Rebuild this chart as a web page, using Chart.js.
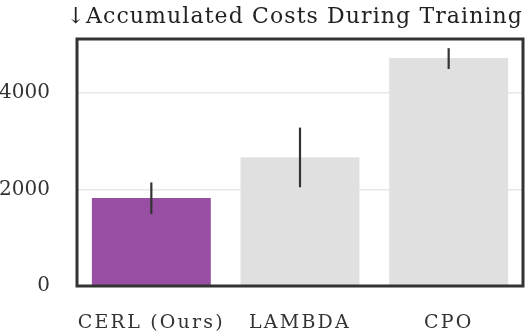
<!DOCTYPE html>
<html>
<head>
<meta charset="utf-8">
<script src="https://cdn.jsdelivr.net/npm/chart.js@4"></script>
<style>
  body { margin: 0; background: #fff; }
</style>
</head>
<body>
<canvas id="js--chart-costs" width="530" height="336"></canvas>
<script>
const categories = ["CERL (Ours)", "LAMBDA", "CPO"];
const costMeans = [1820, 2665, 4720];
const costLow = [1490, 2045, 4495];   // lower end of error bar
const costHigh = [2145, 3280, 4925];  // upper end of error bar
const barColors = ["#984ea3", "#e0e0e0", "#e0e0e0"];
const yTicks = [0, 2000, 4000];
const yMax = 5115;

const serif = "'DejaVu Serif', serif";
const textColor = "#333333";

// wrap a draw method so its text gets some extra letter spacing
function spaced(obj, method, spacing) {
    if (!obj || obj["_spaced_" + method]) return;
    const orig = obj[method];
    obj[method] = function (...args) {
        const c = this.ctx;
        c.save();
        c.letterSpacing = spacing;
        orig.apply(this, args);
        c.restore();
    };
    obj["_spaced_" + method] = true;
}

const letterSpacing = {
    id: "letterSpacing",
    afterLayout(chart) {
        spaced(chart.scales.x, "drawLabels", "2.2px");
        spaced(chart.titleBlock, "draw", "1.1px");
    }
};

// error bars drawn on top of the bars
const errorBars = {
    id: "errorBars",
    afterDatasetsDraw(chart) {
        const ctx = chart.ctx;
        const yScale = chart.scales.y;
        const meta = chart.getDatasetMeta(0);
        ctx.save();
        ctx.strokeStyle = "#333333";
        ctx.lineWidth = 2.2;
        meta.data.forEach((bar, i) => {
            ctx.beginPath();
            ctx.moveTo(bar.x, yScale.getPixelForValue(costLow[i]));
            ctx.lineTo(bar.x, yScale.getPixelForValue(costHigh[i]));
            ctx.stroke();
        });
        ctx.restore();
    }
};

// dark box around the plot area
const frame = {
    id: "frame",
    afterDraw(chart) {
        const a = chart.chartArea;
        const ctx = chart.ctx;
        ctx.save();
        ctx.strokeStyle = "#333333";
        ctx.lineWidth = 3;
        ctx.strokeRect(a.left, a.top, a.right - a.left, a.bottom - a.top);
        ctx.restore();
    }
};

const ctx = document.getElementById("js--chart-costs").getContext("2d");

const chart = new Chart(ctx, {
    type: "bar",
    data: {
        labels: categories,
        datasets: [{
            label: "Accumulated costs",
            data: costMeans,
            backgroundColor: barColors,
            borderWidth: 0,
            barPercentage: 0.8,
            categoryPercentage: 1
        }]
    },
    options: {
        responsive: false,
        devicePixelRatio: 1,
        animation: false,
        layout: {
            padding: { top: 1, right: 7, left: 0, bottom: 0 }
        },
        plugins: {
            legend: { display: false },
            tooltip: { enabled: false },
            title: {
                display: true,
                text: "↓Accumulated Costs During Training",
                align: "end",
                color: "#222222",
                font: { family: serif, size: 22, weight: "normal" },
                padding: { top: 1, bottom: 9 }
            }
        },
        scales: {
            x: {
                grid: { display: false },
                border: { display: false },
                ticks: {
                    color: textColor,
                    font: { family: serif, size: 19 },
                    padding: 18,
                    maxRotation: 0
                },
                afterFit(scale) { scale.height = 50; }
            },
            y: {
                min: 0,
                max: yMax,
                grid: { color: "#e6e6e6", lineWidth: 1.5, drawTicks: false },
                border: { display: false },
                afterBuildTicks(scale) {
                    scale.ticks = yTicks.map(v => ({ value: v }));
                },
                ticks: {
                    color: textColor,
                    font: { family: serif, size: 20 },
                    padding: 27,
                    callback: v => String(v)
                },
                afterFit(scale) { scale.width = 77; }
            }
        }
    },
    plugins: [letterSpacing, errorBars, frame]
});
</script>
</body>
</html>
